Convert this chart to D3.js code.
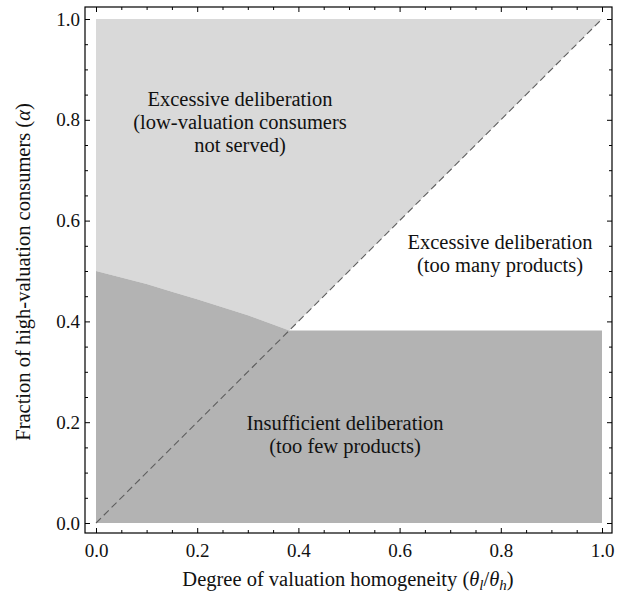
<!DOCTYPE html>
<html>
<head>
<meta charset="utf-8">
<script src="https://cdn.jsdelivr.net/npm/d3@7"></script>
<style>
  body { margin: 0; background: #fff; }
</style>
</head>
<body>
<div id="chart"></div>
<script>
// data
const xTicks = [0, 0.2, 0.4, 0.6, 0.8, 1.0];
const yTicks = [0, 0.2, 0.4, 0.6, 0.8, 1.0];
const minorTicks = [0.05, 0.1, 0.15, 0.25, 0.3, 0.35, 0.45, 0.5, 0.55, 0.65, 0.7, 0.75, 0.85, 0.9, 0.95];
// lower edge of the light region, left of the diagonal
const boundaryTheta = [0, 0.05, 0.1, 0.15, 0.2, 0.25, 0.3, 0.35, 0.382];
const boundaryAlpha = [0.5, 0.487, 0.474, 0.459, 0.444, 0.428, 0.412, 0.394, 0.382];
// top of the dark region right of the diagonal
const plateauAlpha = 0.382;
const diagonal = [[0, 0], [1, 1]];

const serif = '"Liberation Serif", "Times New Roman", serif';
const width = 622, height = 598;
const frame = { left: 85, right: 612, top: 7, bottom: 533 };

const svg = d3.select('#chart').append('svg')
    .attr('width', width)
    .attr('height', height);

const x = d3.scaleLinear().domain([0, 1]).range([96, 602]);
const y = d3.scaleLinear().domain([0, 1]).range([523, 19]);

const line = d3.line()
    .x(d => x(d[0]))
    .y(d => y(d[1]));

const curve = boundaryTheta.map((t, i) => [t, boundaryAlpha[i]]);

// light region: excessive deliberation, low-valuation not served
const upper = [[0, 1]].concat(curve, [[1, 1]]);
svg.append('path')
    .attr('d', line(upper) + 'Z')
    .attr('fill', '#d9d9d9');

// dark region: insufficient deliberation
const lower = [[0, 0]].concat(curve, [[1, plateauAlpha], [1, 0]]);
svg.append('path')
    .attr('d', line(lower) + 'Z')
    .attr('fill', '#b3b3b3');

// dashed 45 degree line
svg.append('path')
    .attr('d', line(diagonal))
    .attr('fill', 'none')
    .attr('stroke', '#5e5e5e')
    .attr('stroke-width', 1.1)
    .attr('stroke-dasharray', '7,4');

// frame
svg.append('rect')
    .attr('x', frame.left).attr('y', frame.top)
    .attr('width', frame.right - frame.left)
    .attr('height', frame.bottom - frame.top)
    .attr('fill', 'none')
    .attr('stroke', '#000')
    .attr('stroke-width', 1.2);

const fmt = d3.format('.1f');

function addAxis(axisFn, scale, ticks, tx, ty, pad) {
    const major = axisFn(scale).tickValues(ticks).tickSize(-5).tickPadding(pad || 0)
        .tickFormat(pad ? fmt : '');
    const g = svg.append('g').attr('transform', `translate(${tx},${ty})`).call(major);
    const minor = axisFn(scale).tickValues(minorTicks).tickSize(-3).tickFormat('');
    const g2 = svg.append('g').attr('transform', `translate(${tx},${ty})`).call(minor);
    [g, g2].forEach(s => {
        s.select('.domain').remove();
        s.selectAll('line').attr('stroke', '#000').attr('stroke-width', 1);
    });
    g.attr('font-family', serif).attr('font-size', 19);
    g.selectAll('text').attr('fill', '#111');
    return g;
}

addAxis(d3.axisBottom, x, xTicks, 0, frame.bottom, 11);
addAxis(d3.axisTop, x, xTicks, 0, frame.top, 0);
addAxis(d3.axisLeft, y, yTicks, frame.left, 0, 5);
addAxis(d3.axisRight, y, yTicks, frame.right, 0, 0);

// axis titles
const xt = svg.append('text')
    .attr('x', 348)
    .attr('y', 586)
    .attr('text-anchor', 'middle')
    .attr('font-family', serif)
    .attr('font-size', 20.5)
    .attr('fill', '#111');
xt.append('tspan').text('Degree of valuation homogeneity (');
xt.append('tspan').attr('font-style', 'italic').text('θ');
xt.append('tspan').attr('font-style', 'italic').attr('font-size', 15).attr('dy', 4).text('l');
xt.append('tspan').attr('dy', -4).text('/');
xt.append('tspan').attr('font-style', 'italic').text('θ');
xt.append('tspan').attr('font-style', 'italic').attr('font-size', 15).attr('dy', 4).text('h');
xt.append('tspan').attr('dy', -4).text(')');

const yt = svg.append('text')
    .attr('transform', `translate(30,${(frame.top + frame.bottom) / 2 + 2}) rotate(-90)`)
    .attr('text-anchor', 'middle')
    .attr('font-family', serif)
    .attr('font-size', 20.5)
    .attr('fill', '#111');
yt.append('tspan').text('Fraction of high-valuation consumers (');
yt.append('tspan').attr('font-style', 'italic').text('α');
yt.append('tspan').text(')');

// region labels
const regionLabels = [
    { cx: 240, cy: 106, lines: ['Excessive deliberation', '(low-valuation consumers', 'not served)'] },
    { cx: 500, cy: 249, lines: ['Excessive deliberation', '(too many products)'] },
    { cx: 345, cy: 430, lines: ['Insufficient deliberation', '(too few products)'] }
];
regionLabels.forEach(r => {
    const t = svg.append('text')
        .attr('text-anchor', 'middle')
        .attr('font-family', serif)
        .attr('font-size', 20.5)
        .attr('fill', '#111');
    r.lines.forEach((s, i) => {
        t.append('tspan').attr('x', r.cx).attr('y', r.cy + i * 23).text(s);
    });
});
</script>
</body>
</html>
